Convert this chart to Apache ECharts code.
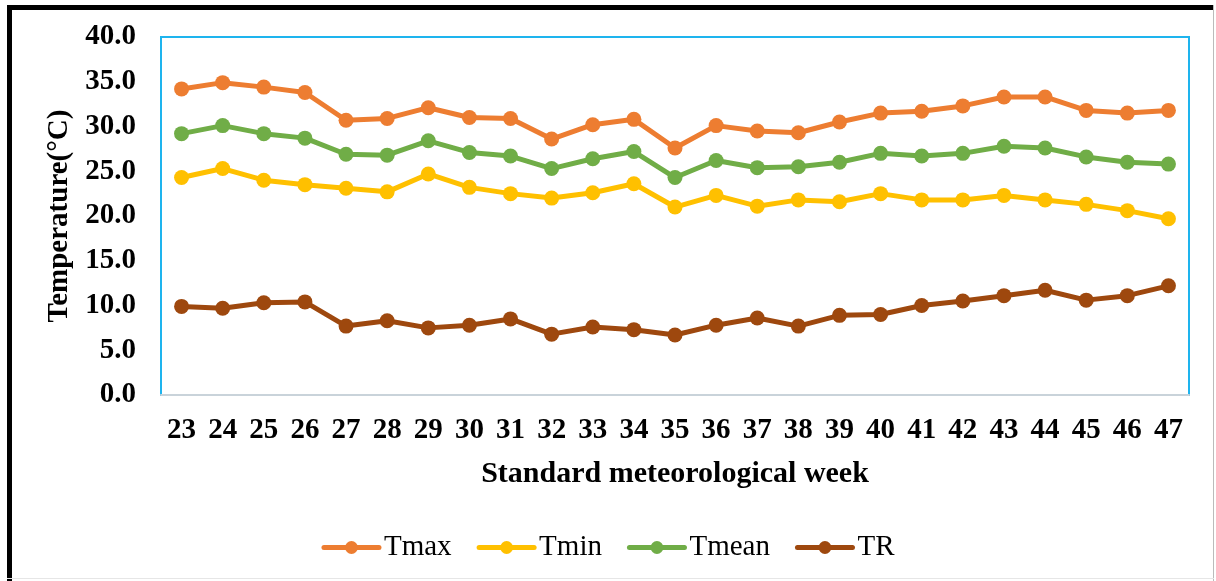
<!DOCTYPE html>
<html>
<head>
<meta charset="utf-8">
<script src="https://cdn.jsdelivr.net/npm/echarts@6/dist/echarts.min.js"></script>
<style>
html,body{margin:0;padding:0;background:#fff;}
#chart{width:1216px;height:581px;}
</style>
</head>
<body>
<div id="chart"></div>
<script>
const weeks = ['23','24','25','26','27','28','29','30','31','32','33','34','35','36','37','38','39','40','41','42','43','44','45','46','47'];
const tmax = [34.2,34.9,34.4,33.8,30.7,30.9,32.1,31.0,30.9,28.6,30.2,30.8,27.6,30.1,29.5,29.3,30.5,31.5,31.7,32.3,33.3,33.3,31.8,31.5,31.8];
const tmin = [24.3,25.3,24.0,23.5,23.1,22.7,24.7,23.2,22.5,22.0,22.6,23.6,21.0,22.3,21.1,21.8,21.6,22.5,21.8,21.8,22.3,21.8,21.3,20.6,19.7];
const tmean = [29.2,30.1,29.2,28.7,26.9,26.8,28.4,27.1,26.7,25.3,26.4,27.2,24.3,26.2,25.4,25.5,26.0,27.0,26.7,27.0,27.8,27.6,26.6,26.0,25.8];
const tr = [9.9,9.7,10.3,10.4,7.7,8.3,7.5,7.8,8.5,6.8,7.6,7.3,6.7,7.8,8.6,7.7,8.9,9.0,10.0,10.5,11.1,11.7,10.6,11.1,12.2];
const seriesNames = ['Tmax','Tmin','Tmean','TR'];
const colors = ['#ED7D31','#FFC000','#70AD47','#9E480E'];

const font = '"Liberation Serif","Times New Roman",serif';
const chart = echarts.init(document.getElementById('chart'));
const dataSets = [tmax, tmin, tmean, tr];
chart.setOption({
  animation: false,
  backgroundColor: '#fff',
  color: colors,
  graphic: [
    {type:'rect', shape:{x:7,y:5,width:5,height:576}, style:{fill:'#000'}},
    {type:'rect', shape:{x:7,y:5,width:1207,height:5}, style:{fill:'#000'}},
    {type:'rect', shape:{x:1213,y:5,width:1,height:576}, style:{fill:'#BBBBBB'}},
    {type:'rect', shape:{x:7,y:578,width:1207,height:1}, style:{fill:'#E6E6E6'}}
  ],
  grid: {
    left: 161, top: 37, right: 27, bottom: 186,
    show: true, borderColor: '#1EB4EE', borderWidth: 2, backgroundColor: 'transparent'
  },
  legend: {
    data: seriesNames,
    left: 'center',
    top: 528,
    itemWidth: 55,
    itemHeight: 16,
    itemGap: 25,
    lineStyle: {width: 5, cap: 'round'},
    textStyle: {fontFamily: font, fontSize: 29, color: '#000'}
  },
  xAxis: {
    type: 'category',
    data: weeks,
    boundaryGap: true,
    axisLine: {show: true, lineStyle: {color: '#C9D3DA', width: 2}},
    axisTick: {show: false},
    axisLabel: {fontFamily: font, fontSize: 29, fontWeight: 'bold', color: '#000', margin: 21, interval: 0},
    name: 'Standard meteorological week',
    nameLocation: 'middle',
    nameGap: 64,
    nameTextStyle: {fontFamily: font, fontSize: 30, fontWeight: 'bold', color: '#000'}
  },
  yAxis: {
    type: 'value',
    min: 0, max: 40, interval: 5,
    axisLine: {show: false},
    axisTick: {show: false},
    splitLine: {show: false},
    axisLabel: {fontFamily: font, fontSize: 29, fontWeight: 'bold', color: '#000', margin: 25,
      formatter: v => v.toFixed(1)},
    name: 'Temperature(°C)',
    nameLocation: 'middle',
    nameGap: 84,
    nameTextStyle: {fontFamily: font, fontSize: 29, fontWeight: 'bold', color: '#000'}
  },
  series: seriesNames.map((n, i) => ({
    name: n,
    type: 'line',
    data: dataSets[i],
    symbol: 'circle',
    symbolSize: 15,
    lineStyle: {width: 5, color: colors[i]},
    itemStyle: {color: colors[i]}
  }))
});
</script>
</body>
</html>
